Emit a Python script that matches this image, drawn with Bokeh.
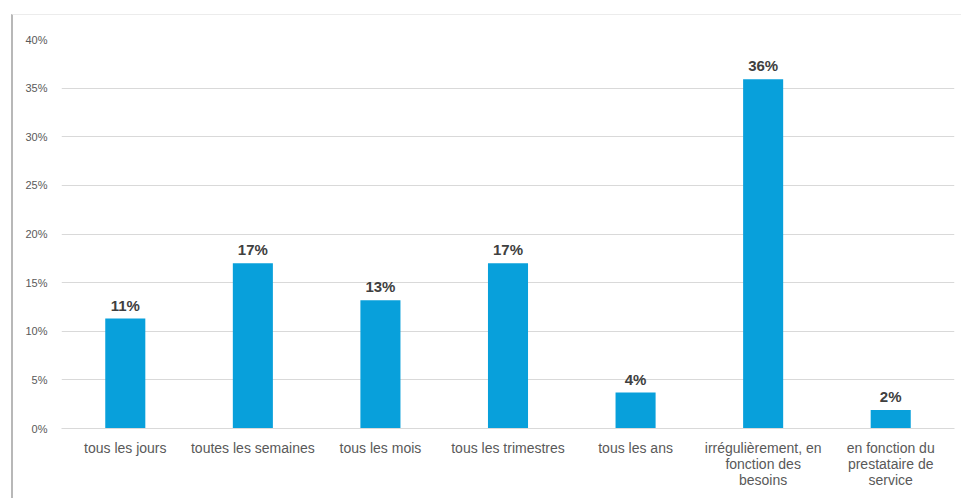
from bokeh.plotting import figure
from bokeh.models import ColumnDataSource, NumeralTickFormatter, FixedTicker, Range1d
from bokeh.core.properties import value
from bokeh.embed import file_html
from bokeh.resources import INLINE

categories = ["tous les jours", "toutes les semaines", "tous les mois", "tous les trimestres",
              "tous les ans", "irrégulièrement, en\nfonction des\nbesoins",
              "en fonction du\nprestataire de\nservice"]
values = [0.113, 0.170, 0.132, 0.170, 0.037, 0.359, 0.019]
labels = [f"{round(v * 100)}%" for v in values]
y_ticks = [0.0, 0.05, 0.10, 0.15, 0.20, 0.25, 0.30, 0.35, 0.40]

src = ColumnDataSource(dict(cat=categories, val=values, lab=labels))

p = figure(x_range=categories, y_range=Range1d(0, 0.40), width=950, height=484,
           output_backend="svg", toolbar_location=None,
           min_border_left=48, min_border_right=9, min_border_top=24, min_border_bottom=71)
p.styles = {"margin-left": "11px", "margin-top": "14px",
            "border-left": "2px solid #b8b8b8", "border-top": "1px solid #ececec"}
p.outline_line_color = None
p.background_fill_color = "white"
p.border_fill_color = "white"

p.vbar(x="cat", top="val", width=0.314, source=src, fill_color="#08A0DB", line_color=None)
p.text(x="cat", y="val", text="lab", source=src, text_align="center", text_baseline="bottom",
       y_offset=-5, text_font=value("Liberation Sans"), text_font_style="bold",
       text_font_size="15px", text_color="#404040")

p.xgrid.grid_line_color = None
p.ygrid.grid_line_color = "#D9D9D9"
p.ygrid.grid_line_width = 1
p.yaxis.ticker = FixedTicker(ticks=y_ticks)
p.yaxis.formatter = NumeralTickFormatter(format="0%")
for ax in (p.xaxis[0], p.yaxis[0]):
    ax.axis_line_color = None
    ax.major_tick_line_color = None
    ax.minor_tick_line_color = None
    ax.major_label_text_font = "Liberation Sans"
    ax.major_label_text_color = "#595959"
p.yaxis.major_label_text_font_size = "11px"
p.yaxis.major_label_standoff = 8
p.xaxis.major_label_text_font_size = "14px"
p.xaxis.major_label_text_line_height = 1.0
p.xaxis.major_label_standoff = 5
p.xaxis.axis_line_color = "#D9D9D9"

open("out.html", "w").write(file_html(p, INLINE))
